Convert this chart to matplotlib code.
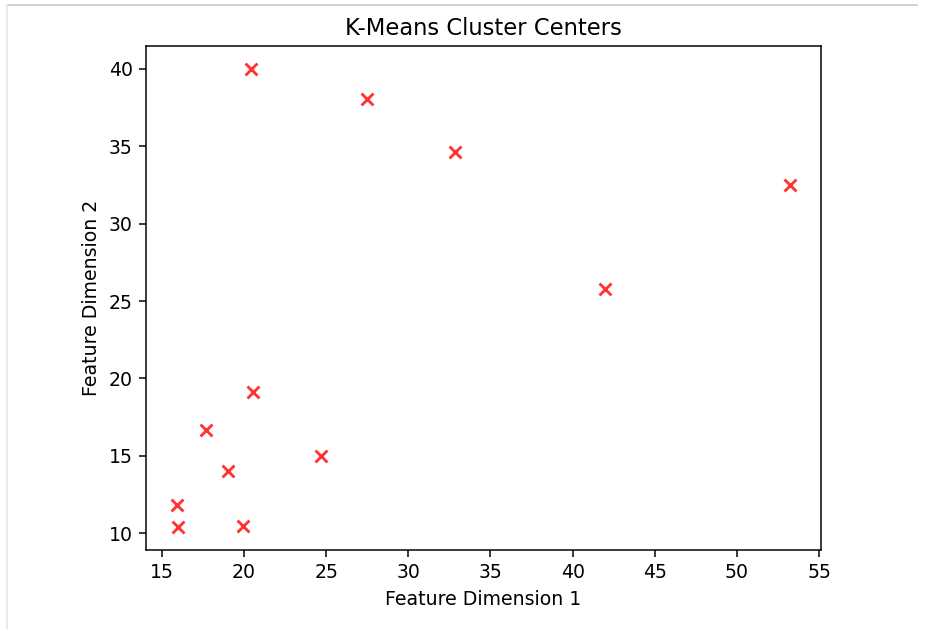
import matplotlib
matplotlib.use("Agg")
import matplotlib.pyplot as plt
from matplotlib.lines import Line2D

x_vals = [20.45, 27.5, 32.85, 53.25, 41.95, 20.55, 17.7, 24.7, 19.05, 15.9, 15.95, 19.95]
y_vals = [40.0, 38.05, 34.6, 32.5, 25.8, 19.1, 16.7, 15.0, 14.0, 11.85, 10.4, 10.45]

W, H, DPI = 926, 629, 136
fig = plt.figure(figsize=(W / DPI, H / DPI), dpi=DPI)
ax = fig.add_axes([146 / W, 1 - 550 / H, (821 - 146) / W, (550 - 46) / H])
ax.scatter(x_vals, y_vals, c='red', marker='x', alpha=0.8, s=40)
ax.set_title('K-Means Cluster Centers')
ax.set_xlabel('Feature Dimension 1')
ax.set_ylabel('Feature Dimension 2')

# screenshot frame lines
fig.add_artist(Line2D([7 / W, 917 / W], [1 - 5 / H, 1 - 5 / H], color='#d0d0d0', lw=1, transform=fig.transFigure))
fig.add_artist(Line2D([7 / W, 7 / W], [1 - 5 / H, 0], color='#e8e8e8', lw=1, transform=fig.transFigure))

fig.savefig('out.png', dpi=DPI)
